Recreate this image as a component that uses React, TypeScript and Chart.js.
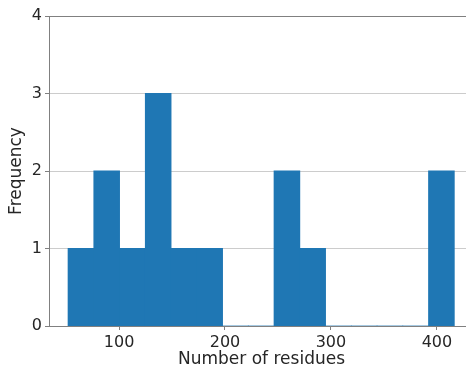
import React, { useEffect, useRef } from "react";
import { Chart, registerables } from "chart.js";
Chart.register(...registerables);

const binCenters = [64.05, 88.35, 112.65, 136.95, 161.25, 185.55, 209.85, 234.15, 258.45, 282.75, 307.05, 331.35, 355.65, 379.95, 404.25];
const frequencies = [1, 2, 1, 3, 1, 1, 0, 0, 2, 1, 0, 0, 0, 0, 2];
const xTickValues = [100, 200, 300, 400];
const yTickValues = [0, 1, 2, 3, 4];
const xTitle = "Number of residues";
const yTitle = "Frequency";

const FONT = "'DejaVu Sans', sans-serif";
const TEXT = "#262626";
const SPINE = "#808080";
const GRID = "#cccccc";
const BAR = "#1f77b4";

export default function App() {
  const ref = useRef<HTMLCanvasElement>(null);
  useEffect(() => {
    const chart = new Chart(ref.current!, {
      type: "bar",
      data: {
        datasets: [
          {
            data: binCenters.map((x, i) => ({ x, y: frequencies[i] })),
            backgroundColor: BAR,
            borderWidth: 0,
            barPercentage: 1,
            categoryPercentage: 1,
            inflateAmount: 0.4,
          },
        ],
      },
      options: {
        animation: false,
        responsive: false,
        maintainAspectRatio: false,
        layout: { padding: { top: 16, left: 0, right: 0, bottom: 0 } },
        plugins: { legend: { display: false }, tooltip: { enabled: false } },
        scales: {
          x: {
            type: "linear",
            min: 33.9,
            max: 435,
            offset: false,
            z: 1,
            afterBuildTicks: (s: any) => {
              s.ticks = xTickValues.map((v) => ({ value: v }));
            },
            afterFit: (s: any) => {
              s.height = 44;
            },
            grid: { offset: false, drawOnChartArea: false, drawTicks: true, tickLength: 4, tickColor: SPINE },
            border: { color: SPINE, width: 1 },
            ticks: { font: { family: FONT, size: 16 }, color: TEXT, padding: 3, maxRotation: 0 },
            title: { display: true, text: xTitle, font: { family: FONT, size: 17 }, color: TEXT, padding: 0 },
          },
          y: {
            type: "linear",
            min: 0,
            max: 4,
            z: 1,
            afterBuildTicks: (s: any) => {
              s.ticks = yTickValues.map((v) => ({ value: v }));
            },
            afterFit: (s: any) => {
              s.width = 49;
            },
            grid: {
              drawTicks: true,
              tickLength: 4,
              tickColor: SPINE,
              color: (ctx: any) => (ctx.tick && ctx.tick.value === 4 ? SPINE : GRID),
            },
            border: { color: SPINE, width: 1 },
            ticks: { font: { family: FONT, size: 16 }, color: TEXT, padding: 3 },
            title: { display: true, text: yTitle, font: { family: FONT, size: 17 }, color: TEXT, padding: { top: 6, bottom: 0 } },
          },
        },
      },
    } as any);
    return () => chart.destroy();
  }, []);
  return (
    <div style={{ position: "fixed", left: 0, top: 0, width: 466, height: 367, overflow: "hidden", background: "#fff" }}>
      <canvas ref={ref} width={474} height={370} style={{ display: "block" }} />
    </div>
  );
}
